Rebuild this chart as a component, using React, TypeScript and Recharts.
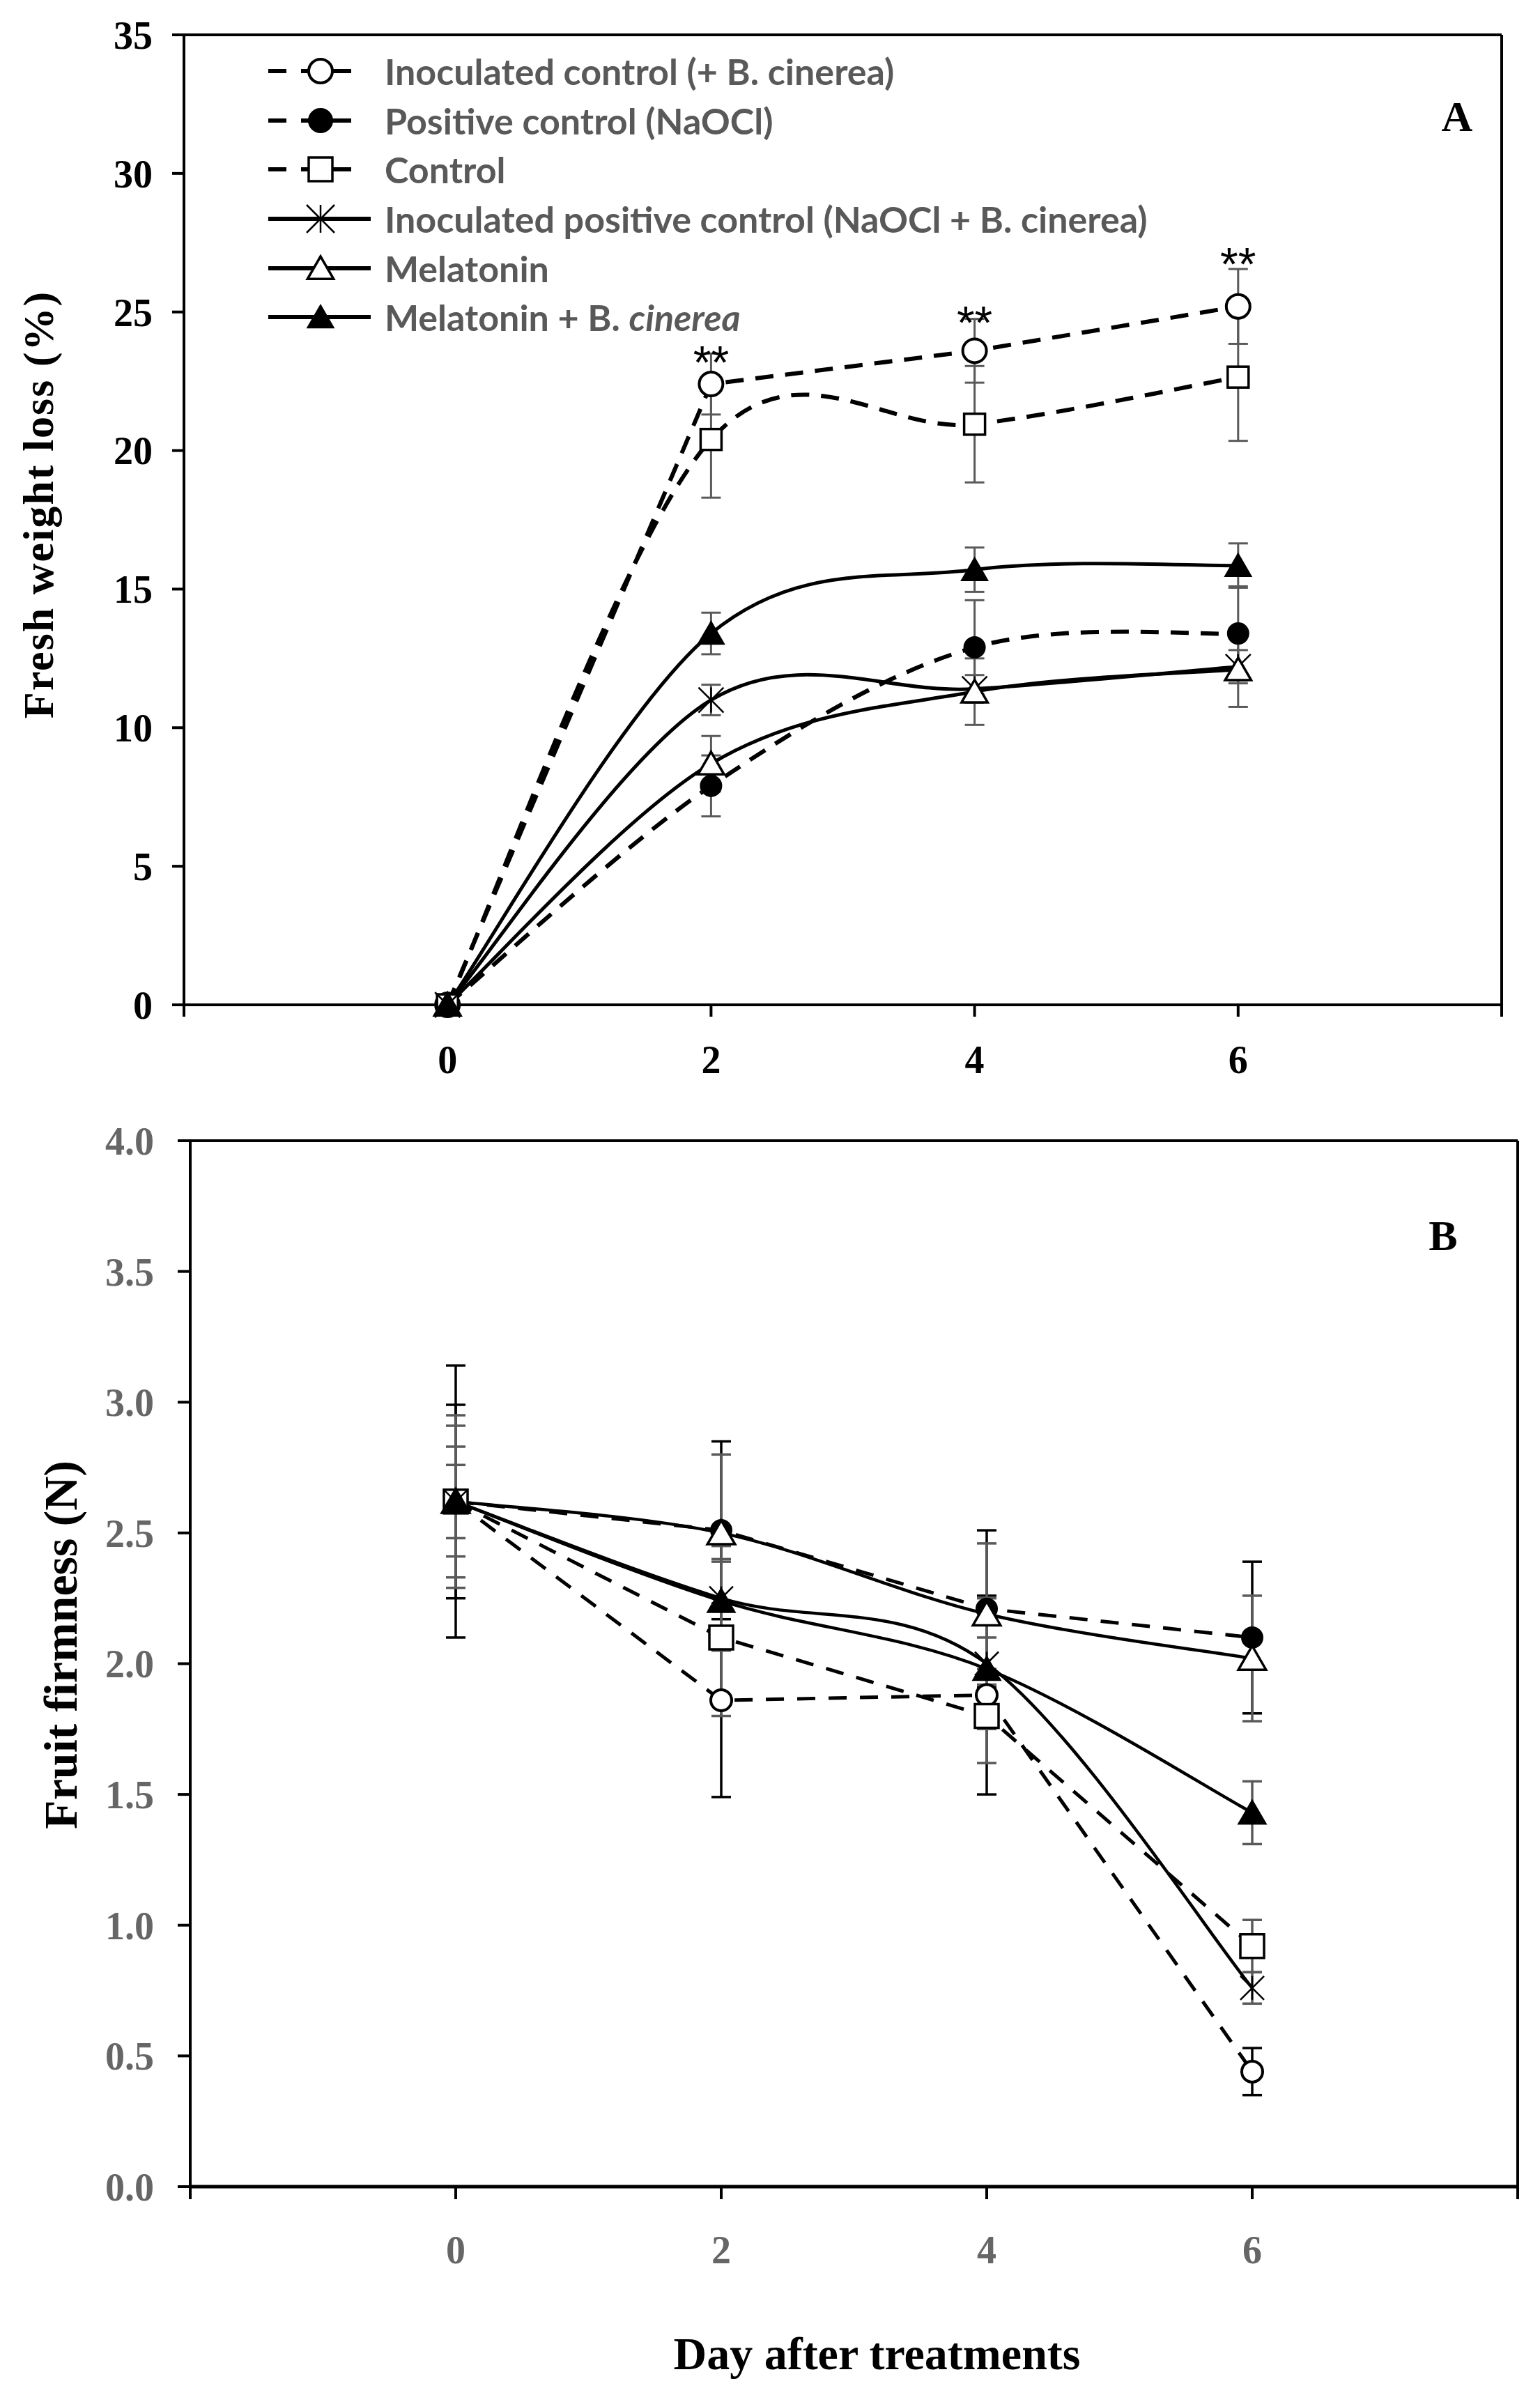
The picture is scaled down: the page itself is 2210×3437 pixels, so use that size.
import React from 'react';
import {
  LineChart,
  Line,
  XAxis,
  YAxis,
  ErrorBar,
  ReferenceLine,
  Legend,
  LabelList,
  Label,
  Customized,
} from 'recharts';

// ---------------- data ----------------
const DAYS = [0, 2, 4, 6];
const X_TICKS = [-2, 0, 2, 4, 6, 8];
const A_Y_TICKS = [0, 5, 10, 15, 20, 25, 30, 35];
const B_Y_TICKS = [0, 0.5, 1, 1.5, 2, 2.5, 3, 3.5, 4];

const SERIES_NAMES = [
  'Inoculated control (+ B. cinerea)',
  'Positive control (NaOCl)',
  'Control',
  'Inoculated positive control (NaOCl + B. cinerea)',
  'Melatonin',
  'Melatonin + B. cinerea',
];

// Panel A: fresh weight loss (%)
const A_IC = [0, 22.4, 23.6, 25.2];
const A_IC_ERR = [0, 1.1, 1.15, 1.35];
const A_PC = [0, 7.9, 12.9, 13.4];
const A_PC_ERR = [0, 1.1, 1.7, 1.7];
const A_CT = [0, 20.4, 20.95, 22.65];
const A_CT_ERR = [0, 2.1, 2.1, 2.3];
const A_IPC = [0, 11.0, 11.4, 12.2];
const A_IPC_ERR = [0, 0.55, 0.5, 0.6];
const A_MEL = [0, 8.7, 11.3, 12.1];
const A_MEL_ERR = [0, 1.0, 1.2, 1.35];
const A_MBC = [0, 13.4, 15.7, 15.85];
const A_MBC_ERR = [0, 0.75, 0.8, 0.8];
// significance marks (text, and the value level they are centred on)
const A_SIG = ['', '**', '**', '**'];
const A_SIG_LEVEL = [null, 23.55, 25.0, 27.1];

// Panel B: fruit firmness (N)
const B_IC = [2.62, 1.86, 1.88, 0.44];
const B_IC_ERR = [0.52, 0.37, 0.38, 0.09];
const B_PC = [2.62, 2.51, 2.21, 2.1];
const B_PC_ERR = [0.37, 0.34, 0.3, 0.29];
const B_CT = [2.62, 2.1, 1.8, 0.92];
const B_CT_ERR = [0.29, 0.3, 0.18, 0.1];
const B_IPC = [2.62, 2.25, 2.0, 0.76];
const B_IPC_ERR = [0.21, 0.2, 0.25, 0.06];
const B_MEL = [2.62, 2.5, 2.19, 2.02];
const B_MEL_ERR = [0.33, 0.3, 0.27, 0.24];
const B_MBC = [2.62, 2.24, 1.98, 1.43];
const B_MBC_ERR = [0.14, 0.15, 0.12, 0.12];

// ---------------- build tables ----------------
const rowsA = DAYS.map((d, i) => ({
  day: d,
  ic: A_IC[i], icE: A_IC_ERR[i],
  pc: A_PC[i], pcE: A_PC_ERR[i],
  ct: A_CT[i], ctE: A_CT_ERR[i],
  ipc: A_IPC[i], ipcE: A_IPC_ERR[i],
  mel: A_MEL[i], melE: A_MEL_ERR[i],
  mbc: A_MBC[i], mbcE: A_MBC_ERR[i],
  sigY: A_SIG_LEVEL[i],
  sig: A_SIG[i],
}));

const rowsB = DAYS.map((d, i) => ({
  day: d,
  ic: B_IC[i], icE: B_IC_ERR[i],
  pc: B_PC[i], pcE: B_PC_ERR[i],
  ct: B_CT[i], ctE: B_CT_ERR[i],
  ipc: B_IPC[i], ipcE: B_IPC_ERR[i],
  mel: B_MEL[i], melE: B_MEL_ERR[i],
  mbc: B_MBC[i], mbcE: B_MBC_ERR[i],
}));

type Shape = 'openCircle' | 'filledCircle' | 'openSquare' | 'asterisk' | 'openTriangle' | 'filledTriangle';

const SERIES: {
  key: string;
  name: string;
  shape: Shape;
  dashed: boolean;
  errB: string;
  smoothA: boolean;
}[] = [
  { key: 'ic', name: SERIES_NAMES[0], shape: 'openCircle', dashed: true, errB: '#000', smoothA: false },
  { key: 'pc', name: SERIES_NAMES[1], shape: 'filledCircle', dashed: true, errB: '#000', smoothA: true },
  { key: 'ct', name: SERIES_NAMES[2], shape: 'openSquare', dashed: true, errB: '#5a5a5a', smoothA: true },
  { key: 'ipc', name: SERIES_NAMES[3], shape: 'asterisk', dashed: false, errB: '#5a5a5a', smoothA: true },
  { key: 'mel', name: SERIES_NAMES[4], shape: 'openTriangle', dashed: false, errB: '#5a5a5a', smoothA: true },
  { key: 'mbc', name: SERIES_NAMES[5], shape: 'filledTriangle', dashed: false, errB: '#5a5a5a', smoothA: true },
];

const SERIF = '"Liberation Serif", "Times New Roman", serif';

// Catmull-Rom style smoothing (like spreadsheet "smoothed line")
const smoothCurve: any = (context: any) => {
  let pts: number[][] = [];
  return {
    areaStart() {},
    areaEnd() {},
    lineStart() {
      pts = [];
    },
    point(x: number, y: number) {
      pts.push([+x, +y]);
    },
    lineEnd() {
      const n = pts.length;
      if (!n) return;
      context.moveTo(pts[0][0], pts[0][1]);
      if (n === 2) {
        context.lineTo(pts[1][0], pts[1][1]);
        return;
      }
      const k = 1 / 6;
      for (let i = 0; i < n - 1; i++) {
        const p0 = pts[i === 0 ? 0 : i - 1];
        const p1 = pts[i];
        const p2 = pts[i + 1];
        const p3 = pts[i + 2 < n ? i + 2 : n - 1];
        context.bezierCurveTo(
          p1[0] + k * (p2[0] - p0[0]),
          p1[1] + k * (p2[1] - p0[1]),
          p2[0] - k * (p3[0] - p1[0]),
          p2[1] - k * (p3[1] - p1[1]),
          p2[0],
          p2[1]
        );
      }
    },
  };
};

function Marker({ shape, cx, cy, s }: { shape: Shape; cx: number; cy: number; s: number }) {
  switch (shape) {
    case 'openCircle':
      return <circle cx={cx} cy={cy} r={s} fill="#fff" stroke="#000" strokeWidth={4} />;
    case 'filledCircle':
      return <circle cx={cx} cy={cy} r={s} fill="#000" stroke="#000" strokeWidth={2} />;
    case 'openSquare':
      return <rect x={cx - s} y={cy - s} width={2 * s} height={2 * s} fill="#fff" stroke="#000" strokeWidth={3.5} />;
    case 'asterisk':
      return (
        <g stroke="#000" strokeWidth={2.5}>
          <line x1={cx} y1={cy - s} x2={cx} y2={cy + s} />
          <line x1={cx - s} y1={cy - s} x2={cx + s} y2={cy + s} />
          <line x1={cx - s} y1={cy + s} x2={cx + s} y2={cy - s} />
        </g>
      );
    case 'openTriangle':
      return (
        <polygon
          points={`${cx},${cy - s} ${cx - s * 1.1},${cy + s * 0.9} ${cx + s * 1.1},${cy + s * 0.9}`}
          fill="#fff"
          stroke="#000"
          strokeWidth={3.5}
        />
      );
    case 'filledTriangle':
    default:
      return (
        <polygon
          points={`${cx},${cy - s} ${cx - s * 1.1},${cy + s * 0.9} ${cx + s * 1.1},${cy + s * 0.9}`}
          fill="#000"
          stroke="#000"
          strokeWidth={2}
        />
      );
  }
}

const sizeA: Record<Shape, number> = {
  openCircle: 17, filledCircle: 15, openSquare: 15, asterisk: 18, openTriangle: 17, filledTriangle: 17,
};
const sizeB: Record<Shape, number> = {
  openCircle: 15, filledCircle: 15, openSquare: 17, asterisk: 17, openTriangle: 18, filledTriangle: 18,
};

const dotFor = (shape: Shape, s: number, key: string) => (p: any) => {
  if (p == null || p.cx == null || p.cy == null || p.value == null) return <g key={`${key}-n-${p && p.index}`} />;
  return (
    <g key={`${key}-${p.index}`}>
      <Marker shape={shape} cx={p.cx} cy={p.cy} s={s} />
    </g>
  );
};

// ---------------- legend ----------------
function LegendLabel({ name }: { name: string }) {
  if (name === 'Melatonin + B. cinerea') {
    return (
      <span>
        Melatonin + B. <i>cinerea</i>
      </span>
    );
  }
  return <span>{name}</span>;
}

function LegendBox() {
  return (
    <div style={{ display: 'flex', flexDirection: 'column' }}>
      {SERIES.map((s) => (
        <div key={s.key} style={{ height: 70.6, display: 'flex', alignItems: 'center' }}>
          <svg width={150} height={60} style={{ display: 'block' }}>
            {s.dashed ? (
              <g stroke="#000" strokeWidth={6}>
                <line x1={0} y1={30} x2={26} y2={30} />
                <line x1={47} y1={30} x2={60} y2={30} />
                <line x1={90} y1={30} x2={119} y2={30} />
              </g>
            ) : (
              <line x1={0} y1={30} x2={147} y2={30} stroke="#000" strokeWidth={6} />
            )}
            <Marker shape={s.shape} cx={75} cy={30} s={s.shape === 'asterisk' ? 20 : 17} />
          </svg>
          <div
            style={{
              marginLeft: 17,
              fontFamily: 'Lato, "Open Sans", sans-serif',
              fontWeight: 700,
              fontSize: 52,
              lineHeight: 1,
              color: '#595959',
              whiteSpace: 'nowrap',
            }}
          >
            <LegendLabel name={s.name} />
          </div>
        </div>
      ))}
    </div>
  );
}

// ---------------- labels ----------------
const makeYLabel = (text: string, dx: number, dy: number, fontSize: number, ls: number) => (props: any) => {
  const vb = (props && props.viewBox) || { x: 0, y: 0, width: 0, height: 0 };
  const px = vb.x + dx;
  const py = vb.y + vb.height / 2 + dy;
  return (
    <text
      x={px}
      y={py}
      transform={`rotate(-90 ${px} ${py})`}
      textAnchor="middle"
      dominantBaseline="central"
      fontFamily={SERIF}
      fontWeight={700}
      fontSize={fontSize}
      letterSpacing={ls}
      fill="#000"
    >
      {text}
    </text>
  );
};

const XTitle = (props: any) => {
  const vb = (props && props.viewBox) || { x: 0, y: 0, width: 0, height: 0 };
  return (
    <text
      x={vb.x + vb.width / 2 + 33}
      y={vb.y + 262}
      textAnchor="middle"
      fontFamily={SERIF}
      fontWeight={700}
      fontSize={66}
      fill="#000"
    >
      Day after treatments
    </text>
  );
};

// "**" drawn so that the asterisks are visually centred on the anchor point
const SigLabel = (props: any) => {
  const { x, y, value } = props;
  if (!value || x == null || y == null) return null;
  return (
    <text
      x={x}
      y={y + 38}
      textAnchor="middle"
      fontFamily='"Liberation Sans", Arial, sans-serif'
      fontSize={66}
      fill="#000"
    >
      {value}
    </text>
  );
};

const fmtDay = (v: number) => (v < 0 || v > 7 ? '' : String(v));
const fmtB = (v: number) => v.toFixed(1);

function PanelA() {
  return (
    <LineChart width={2210} height={1600} data={rowsA} margin={{ top: 50, right: 55, bottom: 58, left: 64 }}>
      <XAxis
        type="number"
        dataKey="day"
        domain={[-2, 8]}
        ticks={X_TICKS}
        interval={0}
        tickFormatter={fmtDay}
        height={100}
        axisLine={{ stroke: '#000', strokeWidth: 4 }}
        tickLine={{ stroke: '#000', strokeWidth: 4 }}
        tickSize={17}
        tickMargin={41}
        tick={{ fill: '#000', fontSize: 56, fontFamily: SERIF, fontWeight: 700 }}
      />
      <YAxis
        type="number"
        domain={[0, 35]}
        ticks={A_Y_TICKS}
        interval={0}
        width={200}
        axisLine={{ stroke: '#000', strokeWidth: 4 }}
        tickLine={{ stroke: '#000', strokeWidth: 4 }}
        tickSize={17}
        tickMargin={28}
        tick={{ fill: '#000', fontSize: 56, fontFamily: SERIF, fontWeight: 700 }}
      >
        <Label content={makeYLabel('Fresh weight loss (%)', -9, -22, 62, 2)} />
      </YAxis>
      <ReferenceLine y={35} stroke="#000" strokeWidth={4} />
      <ReferenceLine x={8} stroke="#000" strokeWidth={4} />
      {SERIES.map((s) => (
        <Line
          key={s.key}
          dataKey={s.key}
          name={s.name}
          type={s.smoothA ? smoothCurve : 'linear'}
          stroke="#000"
          strokeWidth={s.dashed ? 6 : 5}
          strokeDasharray={s.dashed ? '26 17' : undefined}
          dot={dotFor(s.shape, sizeA[s.shape], 'a' + s.key)}
          activeDot={false}
          isAnimationActive={false}
        >
          <ErrorBar dataKey={s.key + 'E'} width={14} stroke="#5a5a5a" strokeWidth={3} direction="y" />
        </Line>
      ))}
      <Line
        dataKey="sigY"
        stroke="none"
        dot={false}
        activeDot={false}
        legendType="none"
        isAnimationActive={false}
      >
        <LabelList dataKey="sig" content={SigLabel} />
      </Line>
      <Legend
        layout="vertical"
        align="center"
        verticalAlign="middle"
        wrapperStyle={{ top: 67, left: 385 }}
        content={() => <LegendBox />}
      />
      <Customized
        component={() => (
          <text x={2091} y={188} textAnchor="middle" fontFamily={SERIF} fontWeight={700} fontSize={62} fill="#000">
            A
          </text>
        )}
      />
    </LineChart>
  );
}

function PanelB() {
  return (
    <LineChart width={2210} height={1837} data={rowsB} margin={{ top: 37, right: 32, bottom: 9, left: 73 }}>
      <XAxis
        type="number"
        dataKey="day"
        domain={[-2, 8]}
        ticks={X_TICKS}
        interval={0}
        tickFormatter={fmtDay}
        height={290}
        axisLine={{ stroke: '#000', strokeWidth: 5 }}
        tickLine={{ stroke: '#000', strokeWidth: 4 }}
        tickSize={18}
        tickMargin={52}
        tick={{ fill: '#666', fontSize: 56, fontFamily: SERIF, fontWeight: 700 }}
      >
        <Label content={XTitle} />
      </XAxis>
      <YAxis
        type="number"
        domain={[0, 4]}
        ticks={B_Y_TICKS}
        interval={0}
        width={200}
        tickFormatter={fmtB}
        axisLine={{ stroke: '#000', strokeWidth: 4 }}
        tickLine={{ stroke: '#000', strokeWidth: 4 }}
        tickSize={18}
        tickMargin={34}
        tick={{ fill: '#666', fontSize: 56, fontFamily: SERIF, fontWeight: 700 }}
      >
        <Label content={makeYLabel('Fruit firmness (N)', 14, -27, 68, 0)} />
      </YAxis>
      <ReferenceLine y={4} stroke="#000" strokeWidth={4} />
      <ReferenceLine x={8} stroke="#000" strokeWidth={4} />
      {SERIES.map((s) => (
        <Line
          key={s.key}
          dataKey={s.key}
          name={s.name}
          type={s.dashed ? 'linear' : smoothCurve}
          stroke="#000"
          strokeWidth={s.dashed ? 5 : 4.5}
          strokeDasharray={s.dashed ? '26 19' : undefined}
          dot={dotFor(s.shape, sizeB[s.shape], 'b' + s.key)}
          activeDot={false}
          isAnimationActive={false}
        >
          <ErrorBar dataKey={s.key + 'E'} width={14} stroke={s.errB} strokeWidth={3.5} direction="y" />
        </Line>
      ))}
      <Customized
        component={() => (
          <text x={2071} y={194} textAnchor="middle" fontFamily={SERIF} fontWeight={700} fontSize={62} fill="#000">
            B
          </text>
        )}
      />
    </LineChart>
  );
}

export default function App() {
  return (
    <div style={{ position: 'absolute', top: 0, left: 0, width: 2210, height: 3437, background: '#fff' }}>
      <div style={{ position: 'absolute', top: 0, left: 0 }}>
        <PanelA />
      </div>
      <div style={{ position: 'absolute', top: 1600, left: 0 }}>
        <PanelB />
      </div>
    </div>
  );
}
